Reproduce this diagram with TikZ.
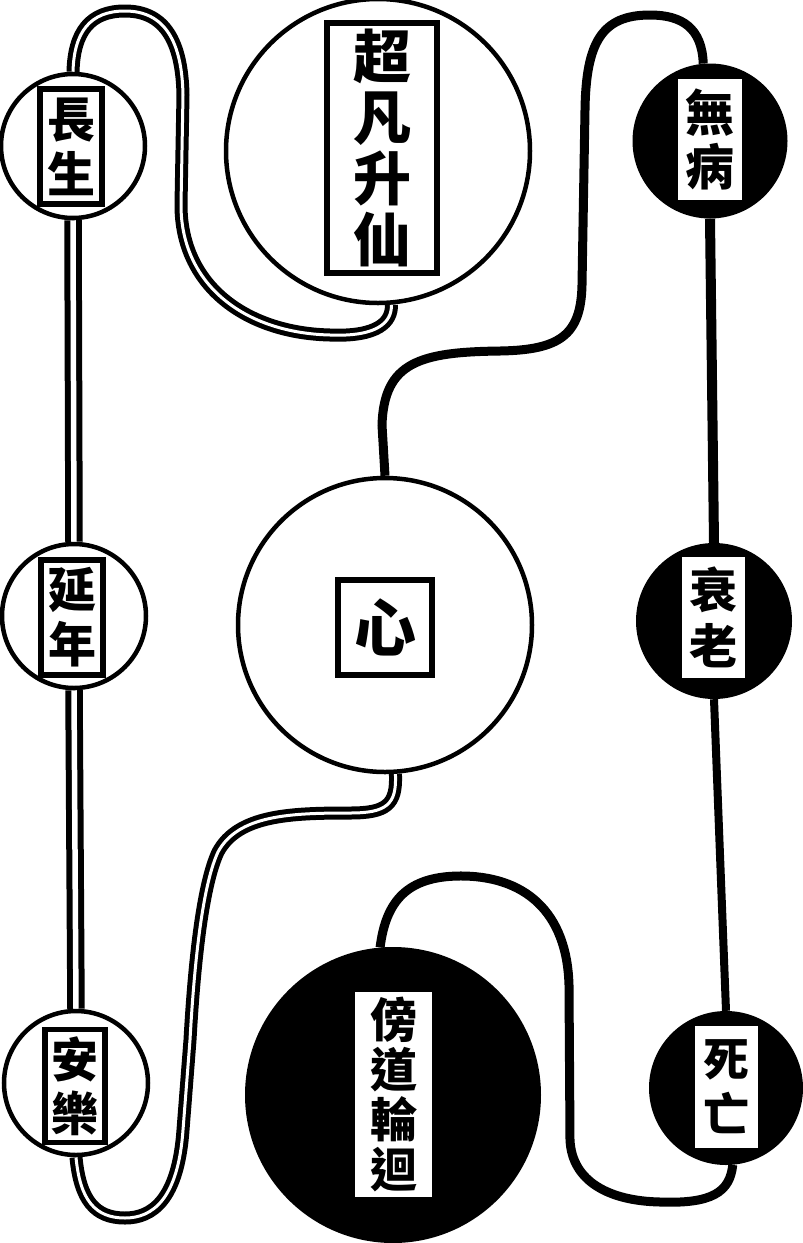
\documentclass[tikz,border=0pt]{standalone}
\usepackage{fontspec}
\newfontfamily\cjk{Noto Sans CJK TC}
\pgfdeclarelayer{bg}
\pgfsetlayers{bg,main}
\begin{document}
\begin{tikzpicture}[x=1pt,y=-1pt,
  wc/.style={circle,draw=black,line width=4.5pt,fill=white,inner sep=0pt},
  bc/.style={circle,fill=black,inner sep=0pt},
  wbx/.style={draw=black,line width=5.5pt,fill=white,inner sep=0pt,align=center},
  bbx/.style={fill=white,inner sep=0pt,align=center},
  dbl/.style={draw=black,line width=5pt,double=white,double distance=3pt},
  dblv/.style={draw=black,line width=6pt,double=white,double distance=5.5pt},
  sgl/.style={draw=black,line width=9pt},
  txt/.style 2 args={font=\cjk\bfseries\fontsize{#1}{#2}\selectfont},
]
\useasboundingbox (0,0) rectangle (803,1243);

% circles
\node[wc,minimum size=144pt] (cs) at (73,146) {};
\node[wc,minimum size=304pt] (cf) at (378,151) {};
\node[bc,minimum size=155pt] (wbn) at (710,141) {};
\node[wc,minimum size=144pt] (yn) at (74,616) {};
\node[wc,minimum size=294pt] (xin) at (385,625) {};
\node[bc,minimum size=156pt] (sl) at (714,621) {};
\node[wc,minimum size=144pt] (al) at (76,1083) {};
\node[bc,minimum size=296pt] (pd) at (393,1095) {};
\node[bc,minimum size=154pt] (sw) at (726,1088) {};

% text boxes
\node[wbx,minimum width=62pt,minimum height=115pt,txt={48}{55}] (cst) at (71,146.5) {長\\生};
\node[wbx,minimum width=110pt,minimum height=250pt,txt={58}{61}] (cft) at (382,148) {超\\凡\\升\\仙};
\node[bbx,minimum width=64pt,minimum height=121pt,txt={49}{54}] (wbt) at (710,139.5) {無\\病};
\node[wbx,minimum width=62pt,minimum height=115pt,txt={48}{55}] (ynt) at (72,617.5) {延\\年};
\node[wbx,minimum width=94pt,minimum height=95pt,txt={62}{62}] (xint) at (385,627.5) {心};
\node[bbx,minimum width=63pt,minimum height=121pt,txt={48}{56}] (slt) at (713.5,617.5) {衰\\老};
\node[wbx,minimum width=60pt,minimum height=113pt,txt={47}{54}] (alt) at (75,1086) {安\\樂};
\node[bbx,minimum width=77pt,minimum height=205pt,txt={47}{50}] (pdt) at (393.5,1094.5) {傍\\道\\輪\\迴};
\node[bbx,minimum width=63pt,minimum height=122pt,txt={46}{55}] (swt) at (726.5,1087) {死\\亡};

% connectors
\begin{pgfonlayer}{bg}
\fill[white] (0,0) rectangle (803,1243);
\draw[dblv] (cs.south) -- (yn.north);
\draw[dblv] (yn.south) -- (al.north);
\draw[dbl] (cs.north) .. controls (74,32) and (90,11) .. (125,11)
  .. controls (165,11) and (182,42) .. (183,95)
  -- (181,205) .. controls (181,285) and (245,333) .. (330,335)
  .. controls (378,337) and (392,322) .. (cf.-85);
\draw[sgl] (wbn.95) .. controls (702,28) and (682,15) .. (650,15)
  .. controls (602,15) and (586,42) .. (585,110)
  -- (582,285) .. controls (581,335) and (560,350) .. (500,351)
  .. controls (420,352) and (384,362) .. (382,425) -- (xin.north);
\draw[sgl,line width=10pt] (wbn.south) -- (sl.north);
\draw[sgl,line width=8pt] (sl.south) -- (sw.north);
\draw[dbl] (xin.-86) .. controls (397,805) and (386,813) .. (350,813)
  .. controls (290,813) and (238,815) .. (218,852)
  .. controls (204,882) and (195,950) .. (190,1040)
  -- (183,1130) .. controls (178,1200) and (152,1218) .. (125,1218)
  .. controls (95,1218) and (80,1200) .. (al.south);
\draw[sgl] (pd.95) .. controls (386,900) and (408,877) .. (458,876)
  .. controls (525,875) and (567,912) .. (569,985)
  -- (570,1140) .. controls (572,1182) and (610,1201) .. (660,1202)
  .. controls (712,1204) and (730,1192) .. (sw.-85);
\end{pgfonlayer}
\end{tikzpicture}
\end{document}
